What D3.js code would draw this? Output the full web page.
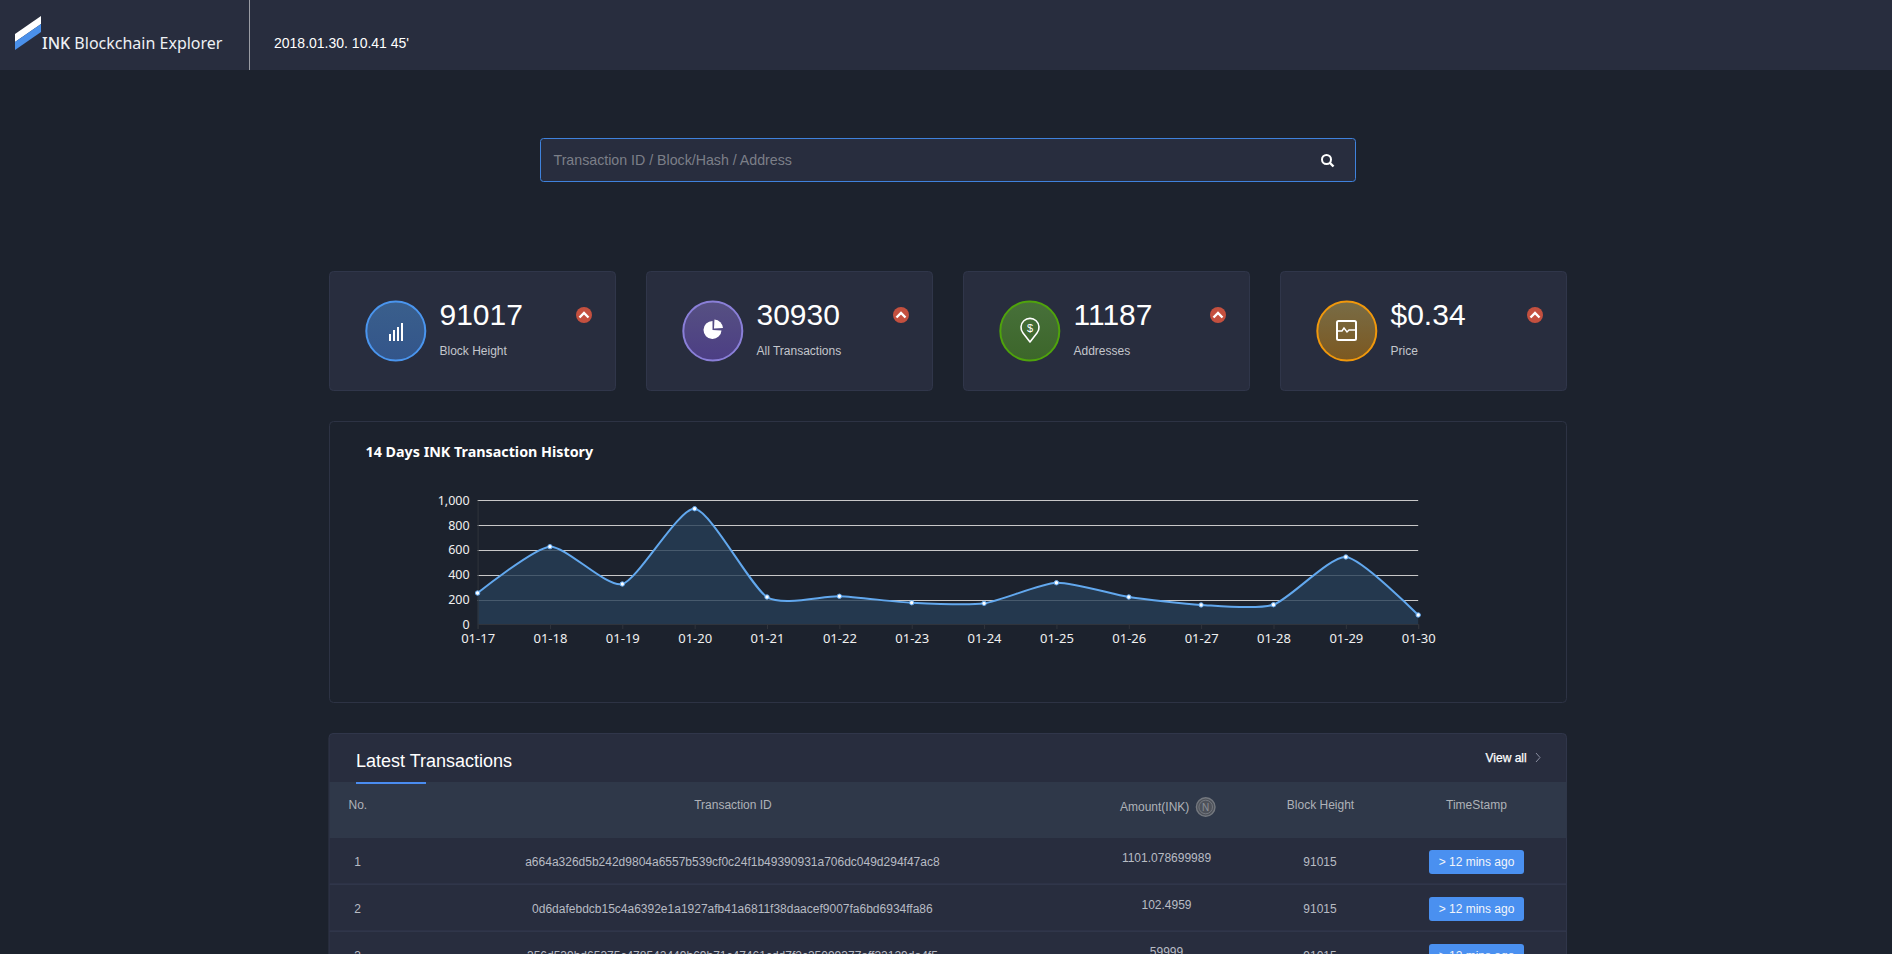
<!DOCTYPE html>
<html><head><meta charset="utf-8">
<script src="https://cdnjs.cloudflare.com/ajax/libs/d3/7.8.5/d3.min.js"></script>
<style>
html,body{margin:0;padding:0;background:#1c222d;overflow:hidden}
svg{display:block}
text{font-family:"Liberation Sans",Arial,sans-serif}
.cjk{font-family:"Noto Sans","Open Sans",sans-serif}
</style></head><body><div id="app"></div>
<script>
const dates=["01-17","01-18","01-19","01-20","01-21","01-22","01-23","01-24","01-25","01-26","01-27","01-28","01-29","01-30"];
const txCounts=[252,626,325,932,220,226,174,169,335,220,156,158,543,75];
const yTicks=[0,200,400,600,800,1000];
const statValues=["91017","30930","11187","$0.34"];
const statLabels=["Block Height","All Transactions","Addresses","Price"];
const statStroke=["#4a95ee","#8a7fd8","#4fa30c","#f0980c"];
const statTop=["#3a5f8c","#565082","#47703a","#786c46"];
const statBottom=["#33558a","#4c3e84","#3c662a","#7c5820"];
const rowNos=["1","2","3"];
const rowIds=["a664a326d5b242d9804a6557b539cf0c24f1b49390931a706dc049d294f47ac8","0d6dafebdcb15c4a6392e1a1927afb41a6811f38daacef9007fa6bd6934ffa86","356d539bd65375c478542449b69b71c47461cdd7f2c35099377aff32129da4f5"];
const rowAmounts=["1101.078699989","102.4959","59999"];
const rowBlocks=["91015","91015","91015"];
const rowAges=["> 12 mins ago","> 12 mins ago","> 12 mins ago"];

const svg=d3.select("#app").append("svg").attr("width",1892).attr("height",954);
const defs=svg.append("defs");
const T=(g,x,y,s,size,fill,anchor)=>g.append("text").attr("x",x).attr("y",y).attr("font-size",size).attr("fill",fill).attr("text-anchor",anchor||"start").text(s);
svg.append("rect").attr("width",1892).attr("height",954).attr("fill","#1c222d");

// header
svg.append("rect").attr("width",1892).attr("height",70).attr("fill","#282d3e");
svg.append("rect").attr("x",249).attr("y",0).attr("width",1).attr("height",70).attr("fill","#9a9ca4");
svg.append("path").attr("d","M15,34 L41,16 L41,24 L15,42 Z").attr("fill","#fff");
svg.append("path").attr("d","M15,42 L41,24 L41,32 L15,50 Z").attr("fill","#4a90ea");
const logo=T(svg,42,49,"",16,"#eef0f4").attr("class","cjk");
logo.append("tspan").attr("font-weight",500).text("INK");
logo.append("tspan").text(" Blockchain Explorer");
T(svg,274,48,"2018.01.30. 10.41 45'",14,"#fff");

// search
svg.append("rect").attr("x",540.5).attr("y",138.5).attr("width",815).attr("height",43).attr("rx",3).attr("fill","#282d3e").attr("stroke","#3f82dc");
T(svg,553.5,165,"Transaction ID / Block/Hash / Address",14.2,"#7c7f88");
const mag=svg.append("g").attr("transform","translate(1327,160)");
mag.append("circle").attr("cx",-.5).attr("cy",-.5).attr("r",4.5).attr("fill","none").attr("stroke","#fff").attr("stroke-width",2);
mag.append("line").attr("x1",2.5).attr("y1",2.5).attr("x2",6.5).attr("y2",6.5).attr("stroke","#fff").attr("stroke-width",2.4);

// stat cards
const cardX=d3.scalePoint().domain(d3.range(4)).range([329,1280]);
statValues.forEach((v,i)=>{
  const g=svg.append("g").attr("transform",`translate(${cardX(i)},271)`);
  g.append("rect").attr("x",.5).attr("y",.5).attr("width",286).attr("height",119).attr("rx",4).attr("fill","#282d3e").attr("stroke","#30364a");
  const gid="sg"+i;
  const lg=defs.append("linearGradient").attr("id",gid).attr("x1",0).attr("y1",0).attr("x2",0).attr("y2",1);
  lg.append("stop").attr("offset",0).attr("stop-color",statTop[i]);
  lg.append("stop").attr("offset",1).attr("stop-color",statBottom[i]);
  g.append("circle").attr("cx",66.8).attr("cy",60).attr("r",29.5).attr("fill",`url(#${gid})`).attr("stroke",statStroke[i]).attr("stroke-width",2);
  T(g,110.5,54,v,30,"#fff");
  T(g,110.5,84,statLabels[i],12,"#c4c6cc");
  g.append("circle").attr("cx",255).attr("cy",44).attr("r",8).attr("fill","#c4503f");
  g.append("path").attr("d","M250.5,46.5 L255,42 L259.5,46.5").attr("fill","none").attr("stroke","#fff").attr("stroke-width",2.4);
  const ic=g.append("g").attr("transform","translate(67,60)").attr("fill","none").attr("stroke","#fff");
  if(i===0){
    [[-7,3],[-3,-1],[1,-4],[5,-8]].forEach(b=>ic.append("rect").attr("x",b[0]).attr("y",b[1]).attr("width",2).attr("height",10-b[1]).attr("fill","#fff").attr("stroke","none"));
  } else if(i===1){
    ic.append("path").attr("d",d3.arc()({innerRadius:0,outerRadius:9,startAngle:Math.PI/2+.05,endAngle:Math.PI*2}))
      .attr("transform","translate(-.5,-1)").attr("fill","#fff").attr("stroke","none");
    ic.append("path").attr("d",d3.arc()({innerRadius:0,outerRadius:9,startAngle:.05,endAngle:Math.PI/2-.05}))
      .attr("transform","translate(1,-2.5)").attr("fill","#fff").attr("stroke","none");
  } else if(i===2){
    ic.append("path").attr("d","M0,12 L-7,3 A9,9 0 1 1 7,3 Z").attr("transform","translate(0,-1)").attr("stroke-width",1.6).attr("stroke-linejoin","round");
    ic.append("text").attr("x",0).attr("y",1).attr("text-anchor","middle").attr("font-size",11).attr("fill","#fff").attr("stroke","none").text("$");
  } else {
    ic.append("rect").attr("x",-10).attr("y",-10).attr("width",19).attr("height",19).attr("rx",1.5).attr("stroke-width",2);
    ic.append("path").attr("d","M-9.5,0 L-5,0 L-3,-3 L0,1 L2,-1 L8.5,-1").attr("stroke-width",1.4);
  }
});

// chart panel
svg.append("rect").attr("x",329.5).attr("y",421.5).attr("width",1237).attr("height",281).attr("rx",4).attr("fill","#1c222d").attr("stroke","#2d3344");
T(svg,365.5,456.5,"14 Days INK Transaction History",14.3,"#fff").attr("class","cjk").attr("font-weight",700);
const x=d3.scalePoint().domain(dates).range([477.6,1418.2]);
const y=d3.scaleLinear().domain([0,1000]).range([624.3,500.3]);
const plot=svg.append("g");
plot.append("g").selectAll("line").data(yTicks.filter(d=>d>0)).join("line")
  .attr("x1",477.6).attr("x2",1418.2).attr("y1",d=>Math.round(y(d))+.5).attr("y2",d=>Math.round(y(d))+.5).attr("stroke","#c8c8c8");
const curve=d3.curveCardinal.tension(0.35);
const area=d3.area().x((d,i)=>x(dates[i])).y0(y(0)).y1(d=>y(d)).curve(curve);
const line=d3.line().x((d,i)=>x(dates[i])).y(d=>y(d)).curve(curve);
plot.append("path").datum(txCounts).attr("d",area).attr("fill","#273e56").attr("fill-opacity",.8);
const xAxis=d3.axisBottom(x).tickSize(5).tickPadding(5);
const xg=svg.append("g").attr("transform",`translate(0,${Math.round(y(0))})`).call(xAxis);
const yAxis=d3.axisLeft(y).tickValues(yTicks).tickFormat(d3.format(",")).tickSize(0).tickPadding(8);
const yg=svg.append("g").attr("transform","translate(477.6,0)").call(yAxis);
xg.selectAll("text").attr("font-size",13);
yg.selectAll("text").attr("font-size",12.5);
[xg,yg].forEach(g=>{g.selectAll("text").attr("fill","#f0f0f0").attr("class","cjk");g.selectAll("path,line").attr("stroke","#30343c");});
plot.append("path").datum(txCounts).attr("d",line).attr("fill","none").attr("stroke","#62a8ee").attr("stroke-width",2);
svg.append("g").selectAll("circle").data(txCounts).join("circle").attr("cx",(d,i)=>x(dates[i])).attr("cy",d=>y(d)).attr("r",2.2).attr("fill","#fff").attr("stroke","#62a8ee").attr("stroke-width",1);

// table
svg.append("rect").attr("x",329).attr("y",733.5).attr("width",1237.5).attr("height",240).attr("rx",4).attr("fill","#282d3e").attr("stroke","#30364a");
T(svg,356,766.5,"Latest Transactions",18,"#fff");
T(svg,1485.5,761.5,"View all",12,"#fff").attr("stroke","#fff").attr("stroke-width",.25);
svg.append("path").attr("d","M1536,753 L1540,757.5 L1536,762").attr("fill","none").attr("stroke","#8a8ea0").attr("stroke-width",1);
svg.append("rect").attr("x",329.5).attr("y",782).attr("width",1237).attr("height",56).attr("fill","#2f3849");
svg.append("rect").attr("x",356).attr("y",782).attr("width",70).attr("height",2).attr("fill","#4a8cf0");
const hd="#aeb2b8";
T(svg,348.5,809,"No.",12,hd);
T(svg,733,809,"Transaction ID",12,hd,"middle");
T(svg,1120,811,"Amount(INK)",12,hd);
T(svg,1320.5,809,"Block Height",12,hd,"middle");
T(svg,1476.5,809,"TimeStamp",12,hd,"middle");
svg.append("circle").attr("cx",1205.7).attr("cy",807).attr("r",9.3).attr("fill","#4e525a").attr("stroke","#74787f").attr("stroke-width",1.4);
svg.append("circle").attr("cx",1205.7).attr("cy",807).attr("r",6.8).attr("fill","none").attr("stroke","#7c8088").attr("stroke-width",.8);
T(svg,1205.7,810.5,"N",10,"#8a8e96","middle").attr("font-family","Liberation Serif");
const rowY=d3.scaleLinear().domain([0,1]).range([865.7,912.7]);
rowNos.forEach((n,i)=>{
  const b=rowY(i),c="#b8bcc4";
  if(i<2) svg.append("rect").attr("x",329.5).attr("y",b+17.6).attr("width",1237).attr("height",1.7).attr("fill","#30364a");
  T(svg,357.5,b,n,12,c,"middle");
  T(svg,732.4,b,rowIds[i],12,c,"middle");
  T(svg,1166.5,b-4,rowAmounts[i],12,c,"middle");
  T(svg,1320,b,rowBlocks[i],12,c,"middle");
  svg.append("rect").attr("x",1429).attr("y",b-15.7).attr("width",95).attr("height",24).attr("rx",3).attr("fill","#4a90f0");
  T(svg,1476.5,b,rowAges[i],12,"#f2f5fa","middle");
});
</script></body></html>
